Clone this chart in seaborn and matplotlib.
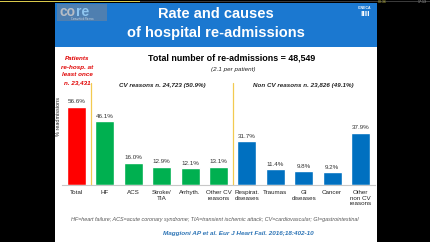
import matplotlib.pyplot as plt
from matplotlib.patches import Rectangle
import seaborn as sns

categories = ["Total", "HF", "ACS", "Stroke/\nTIA", "Arrhyth.", "Other CV\nreasons",
              "Respirat.\ndiseases", "Traumas", "GI\ndiseases", "Cancer", "Other\nnon CV\nreasons"]
values = [56.6, 46.1, 16.0, 12.9, 12.1, 13.1, 31.7, 11.4, 9.8, 9.2, 37.9]
groups = ["Patients"] + ["CV"] * 5 + ["Non CV"] * 5
palette = {"Patients": "#FF0000", "CV": "#00B050", "Non CV": "#0070C0"}

W, H = 430, 242


def fx(x):
    return x / W


def fy(y):
    return 1 - y / H


sns.set_theme(style="white")
plt.rcParams["font.family"] = ["Liberation Sans", "DejaVu Sans"]

fig = plt.figure(figsize=(4.3, 2.42), dpi=100, facecolor="black")

# slide background + blue header
fig.patches.append(Rectangle((fx(55), 0), fx(377) - fx(55), fy(47), transform=fig.transFigure,
                             facecolor="white", edgecolor="none", zorder=-3))
fig.patches.append(Rectangle((fx(55), fy(47)), fx(377) - fx(55), fy(3) - fy(47), transform=fig.transFigure,
                             facecolor="#1B78D0", edgecolor="none", zorder=-3))
# video progress strip
fig.patches.append(Rectangle((0, fy(2.2)), 1, 1 / H, transform=fig.transFigure,
                             facecolor="#3a3a3a", edgecolor="none", zorder=-2))
fig.patches.append(Rectangle((0, fy(2.2)), fx(140), 1 / H, transform=fig.transFigure,
                             facecolor="#D8C84A", edgecolor="none", zorder=-1))
fig.text(fx(378), fy(2), "00:36", fontsize=2.5, color="#C8C040", ha="left", va="center")
fig.text(fx(427), fy(2), "17:13", fontsize=2.5, color="#aaaaaa", ha="right", va="center")

# logos
fig.patches.append(Rectangle((fx(57), fy(21)), fx(50), fy(4) - fy(21), transform=fig.transFigure,
                             facecolor="#4F7FB0", edgecolor="none", zorder=-1))
fig.text(fx(59), fy(11.5), "co", fontsize=10, fontweight="bold", color="#B8BEC6", va="center")
fig.text(fx(76), fy(11.5), "re", fontsize=10, fontweight="bold", color="#8FC6F0", va="center")
fig.text(fx(82), fy(19), "Comunità di Ricerca", fontsize=1.8, color="#D0D8E0", ha="center", va="center")
fig.text(fx(365), fy(8), "CINECA", fontsize=2.5, fontweight="bold", color="white", ha="center", va="center")
fig.text(fx(365), fy(15), "llll", fontsize=6, fontweight="bold", color="white", ha="center", va="center")

fig.text(fx(216), fy(14.5), "Rate and causes", fontsize=10.5, fontweight="bold", color="white",
         ha="center", va="center")
fig.text(fx(216), fy(32.5), "of hospital re-admissions", fontsize=10.5, fontweight="bold", color="white",
         ha="center", va="center")

# chart
ax = fig.add_axes([fx(62.3), fy(185), (374.7 - 62.3) / W, (185 - 102.3) / H])
ax.set_zorder(2)
ax.set_facecolor("none")
sns.barplot(x=categories, y=values, hue=groups, palette=palette, order=categories,
            hue_order=["Patients", "CV", "Non CV"], dodge=False, width=0.67, saturation=1,
            legend=False, ax=ax)
for c in ax.containers:
    ax.bar_label(c, labels=[f"{v:.1f}%" for v in c.datavalues], fontsize=4.5, padding=2, color="#333333")

ax.set_xlim(-0.5, 10.5)
ax.set_ylim(0, 60)
ax.set_yticks([])
ax.set_xlabel("")
ax.set_ylabel("")
ax.tick_params(axis="x", length=0, pad=3.5, labelsize=4.5, colors="#222222")
for s in ["top", "right", "left"]:
    ax.spines[s].set_visible(False)
ax.spines["bottom"].set_color("#C8C8C8")
ax.spines["bottom"].set_linewidth(0.8)

for xv in [0.5, 5.5]:
    ax.axvline(xv, ymin=0, ymax=(185 - 83) / (185 - 102.3), clip_on=False, color="#F2CA50", lw=0.9)

fig.text(fx(58), fy(117), "% readmissions", rotation=90, fontsize=4, color="#222222",
         ha="center", va="center")

fig.text(fx(232), fy(58), "Total number of re-admissions = 48,549", fontsize=6.4, fontweight="bold",
         ha="center", va="center", color="black")
fig.text(fx(233), fy(69), "(2.1 per patient)", fontsize=4.5, style="italic",
         ha="center", va="center", color="#222222")
for i, line in enumerate(["Patients", "re-hosp. at", "least once", "n. 23,431"]):
    fig.text(fx(77), fy(59 + 8 * i), line, fontsize=4.5, fontweight="bold", style="italic",
             color="#E00000", ha="center", va="center")
fig.text(fx(162), fy(86), "CV reasons n. 24,723 (50.9%)", fontsize=4.5, fontweight="bold",
         style="italic", ha="center", va="center", color="#222222")
fig.text(fx(303.5), fy(86), "Non CV reasons n. 23,826 (49.1%)", fontsize=4.5, fontweight="bold",
         style="italic", ha="center", va="center", color="#222222")

fig.text(fx(215), fy(219), "HF=heart failure; ACS=acute coronary syndrome; TIA=transient ischemic attack; "
         "CV=cardiovascular; GI=gastrointestinal", fontsize=3.9, style="italic", color="#555555",
         ha="center", va="center")
fig.text(fx(238), fy(233), "Maggioni AP et al. Eur J Heart Fail. 2016;18:402-10", fontsize=4.6,
         fontweight="bold", style="italic", color="#2E75B6", ha="center", va="center")

fig.savefig("out.png", dpi=100, facecolor="black")
